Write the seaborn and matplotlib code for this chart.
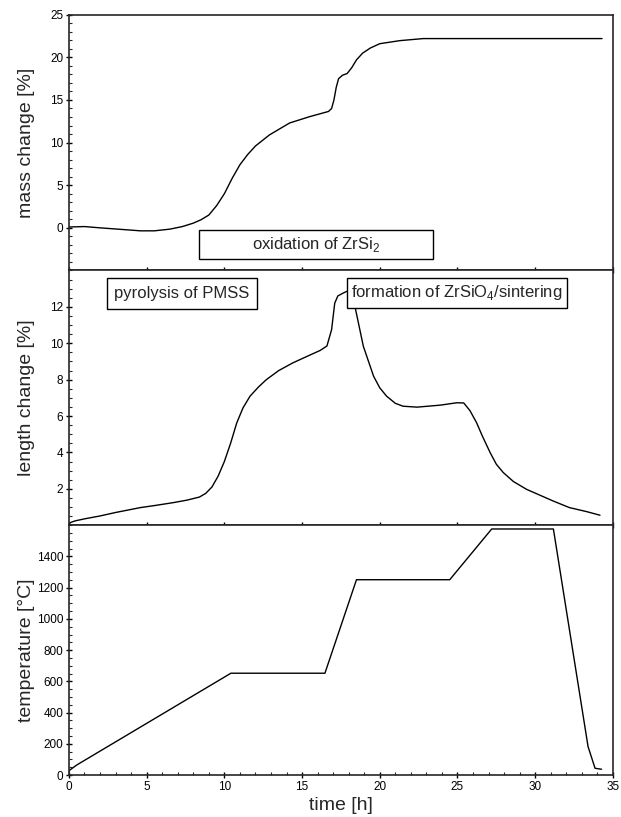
import numpy as np
import pandas as pd
import matplotlib
matplotlib.use("Agg")
import matplotlib.pyplot as plt
from matplotlib.patches import Rectangle
from matplotlib.ticker import MultipleLocator
import seaborn as sns

# mass change (TG)
t_mass = [0, 1.0, 2.0, 3.5, 4.6, 5.5, 6.5, 7.3, 8.0, 8.5, 9.0, 9.5, 10.0, 10.5, 11.0,
          11.5, 12.0, 12.9, 14.2, 15.5, 16.7, 16.9, 17.05, 17.2, 17.35, 17.6,
          17.9, 18.2, 18.5, 18.9, 19.4, 20.0, 21.3, 22.8, 24.0, 34.3]
mass = [0.1, 0.15, 0.0, -0.2, -0.35, -0.35, -0.15, 0.15, 0.55, 0.95, 1.5, 2.6, 4.0,
        5.8, 7.4, 8.6, 9.6, 10.9, 12.3, 13.05, 13.65, 14.0, 15.0, 16.5, 17.5, 17.9,
        18.1, 18.8, 19.7, 20.5, 21.1, 21.6, 21.96, 22.2, 22.2, 22.2]

# length change (dilatometry)
t_len = [0, 0.1, 0.4, 1.0, 2.0, 3.0, 4.6, 5.5, 6.7, 7.6, 8.4, 8.8, 9.2, 9.6, 10.0,
         10.4, 10.8, 11.2, 11.65, 12.2, 12.7, 13.5, 14.4, 15.5, 16.15, 16.6, 16.9,
         17.1, 17.3, 17.65, 18.0, 18.2, 18.4, 18.94, 19.6, 20.0, 20.44, 21.0, 21.5,
         22.4, 23.9, 24.95, 25.4, 25.8, 26.23, 26.6, 27.1, 27.5, 27.95, 28.6, 29.45,
         31.16, 32.2, 33.3, 34.17]
length = [0.05, 0.15, 0.24, 0.35, 0.51, 0.7, 0.97, 1.08, 1.24, 1.38, 1.55, 1.75, 2.1,
          2.7, 3.5, 4.5, 5.63, 6.45, 7.09, 7.6, 8.0, 8.5, 8.92, 9.35, 9.6, 9.85, 10.75,
          12.2, 12.6, 12.76, 12.9, 12.9, 12.03, 9.84, 8.19, 7.55, 7.09, 6.7, 6.54,
          6.49, 6.6, 6.73, 6.72, 6.3, 5.63, 4.9, 3.99, 3.35, 2.89, 2.4, 1.97, 1.33,
          0.97, 0.75, 0.55]

# temperature program
t_temp = [0, 0.06, 0.5, 10.42, 16.47, 18.5, 24.5, 27.2, 31.17, 33.4, 33.85, 34.27]
temp = [20, 32, 64, 652, 652, 1251, 1251, 1576, 1576, 182, 43, 37]

sns.set_style("ticks")
plt.rcParams['font.family'] = ['Liberation Sans', 'DejaVu Sans']
plt.rcParams['mathtext.fontset'] = 'custom'
plt.rcParams['mathtext.rm'] = 'Liberation Sans'

fig, axes = plt.subplots(3, 1, figsize=(6.21, 8.17), dpi=100, sharex=True,
                         gridspec_kw={'height_ratios': [256, 255, 250]})
fig.subplots_adjust(left=0.111, right=0.987, top=0.982, bottom=0.0514, hspace=0)
ax1, ax2, ax3 = axes

sns.lineplot(x=t_mass, y=mass, ax=ax1, color='black', linewidth=1.0, sort=False)
sns.lineplot(x=t_len, y=length, ax=ax2, color='black', linewidth=1.0, sort=False)
sns.lineplot(x=t_temp, y=temp, ax=ax3, color='black', linewidth=1.0, sort=False)

ax1.set_ylim(-5, 25)
ax1.set_yticks([0, 5, 10, 15, 20, 25])
ax1.yaxis.set_minor_locator(MultipleLocator(1))
ax2.set_ylim(0, 14)
ax2.set_yticks([2, 4, 6, 8, 10, 12])
ax2.yaxis.set_minor_locator(MultipleLocator(0.5))
ax3.set_ylim(0, 1600)
ax3.set_yticks([0, 200, 400, 600, 800, 1000, 1200, 1400])
ax3.yaxis.set_minor_locator(MultipleLocator(50))
ax3.set_xlim(0, 35)
ax3.set_xticks([0, 5, 10, 15, 20, 25, 30, 35])
ax3.xaxis.set_minor_locator(MultipleLocator(1))

for ax in axes:
    for sp in ax.spines.values():
        sp.set_visible(True)
        sp.set_linewidth(1.2)
    ax.tick_params(which='major', direction='inout', length=4, width=1.0,
                   labelsize=8.5, colors='black', pad=2)
    ax.tick_params(which='minor', direction='in', length=2.2, width=0.8)
    ax.tick_params(axis='x', which='minor', bottom=(ax is ax3))
    ax.grid(False)

ax1.set_ylabel('mass change [%]', fontsize=14)
ax2.set_ylabel('length change [%]', fontsize=14)
ax3.set_ylabel('temperature [°C]', fontsize=14)
ax3.set_xlabel('time [h]', fontsize=14, labelpad=3)
for ax in axes:
    ax.yaxis.set_label_coords(-0.062, 0.5)


def label_box(ax, x0, x1, y0, y1, text):
    ax.add_patch(Rectangle((x0, y0), x1 - x0, y1 - y0, facecolor='white',
                           edgecolor='black', linewidth=1.0, zorder=5))
    ax.text((x0 + x1) / 2, (y0 + y1) / 2, text, ha='center', va='center',
            fontsize=12, zorder=6)


label_box(ax1, 8.37, 23.42, -3.63, -0.23, r'oxidation of ZrSi$_2$')
label_box(ax2, 2.43, 12.08, 11.86, 13.6, 'pyrolysis of PMSS')
label_box(ax2, 17.91, 32.03, 11.95, 13.6, r'formation of ZrSiO$_4$/sintering')

fig.savefig('out.png', dpi=100)
